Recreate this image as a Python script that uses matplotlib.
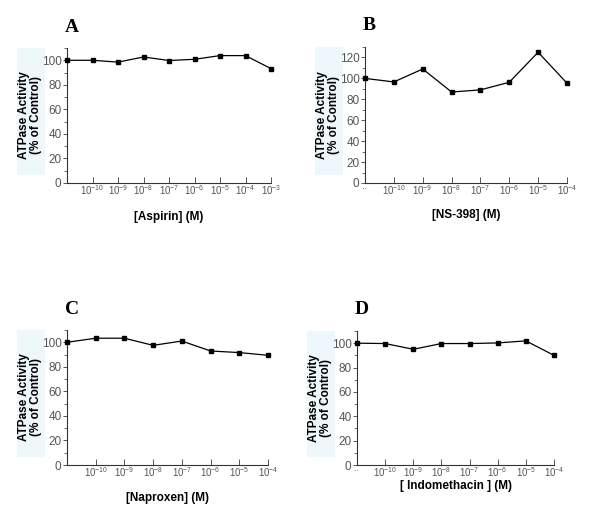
import matplotlib
matplotlib.use("Agg")
import matplotlib.pyplot as plt
from matplotlib.patches import Rectangle
from matplotlib.ticker import MultipleLocator

plt.rcParams['font.family'] = ['Liberation Sans', 'DejaVu Sans']
plt.rcParams['mathtext.default'] = 'regular'

# concentration exponents (None = control)
exp_a = [None, -10, -9, -8, -7, -6, -5, -4, -3]
exp_b = [None, -10, -9, -8, -7, -6, -5, -4]
exp_c = [None, -10, -9, -8, -7, -6, -5, -4]
exp_d = [None, -10, -9, -8, -7, -6, -5, -4]

# ATPase activity (% of control)
aspirin = [100, 100, 98.5, 102.7, 99.8, 100.8, 103.8, 103.8, 93.2]
ns398 = [100, 96.6, 109, 87, 89, 96.3, 125, 95.4]
naproxen = [100, 103.3, 103.3, 97.5, 101, 92.9, 91.6, 89.4]
indomethacin = [100, 99.7, 95, 99.7, 99.7, 100.2, 101.9, 90]

panels = [
    # letter, exps, values, xlabel, axes rect (fig px), ymax, control label, xlabel centre
    ("A", exp_a, aspirin, "[Aspirin] (M)", (67, 271, 183, 48), 110, "", 217),
    ("B", exp_b, ns398, "[NS-398] (M)", (365, 567, 183, 47), 130, "··", 215),
    ("C", exp_c, naproxen, "[Naproxen] (M)", (67, 268, 465, 330), 110, "", 498),
    ("D", exp_d, indomethacin, "[ Indomethacin ] (M)", (357, 554, 465, 331), 110, "··", 486),
]

W, H = 600, 527
fig = plt.figure(figsize=(6, 5.27), dpi=100)

for letter, exps, vals, xlab, (l, r, b, t), ymax, ctrl, xl_y in panels:
    ax = fig.add_axes([l / W, 1 - b / H, (r - l) / W, (b - t) / H])

    # faint box behind the y label
    fig.patches.append(Rectangle(((l - 50) / W, 1 - (b - 8) / H), 28 / W, (b - 8 - t) / H,
                                 transform=fig.transFigure, facecolor='#eef7fb',
                                 edgecolor='none', zorder=-1))

    xs = list(range(len(vals)))
    ax.plot(xs, vals, color='black', lw=0.9, marker='s', ms=3, mec='black', mfc='black',
            clip_on=False, zorder=3)

    ax.set_xlim(0, len(vals) - 1)
    ax.set_ylim(0, ymax)
    ax.patch.set_alpha(0)
    ax.spines['top'].set_visible(False)
    ax.spines['right'].set_visible(False)
    for s in ('left', 'bottom'):
        ax.spines[s].set_linewidth(0.8)
        ax.spines[s].set_color('#333333')

    labels = [ctrl] + ['$10^{%d}$' % e for e in exps[1:]]
    ax.set_xticks(xs)
    ax.set_xticklabels(labels)
    ax.yaxis.set_major_locator(MultipleLocator(20))
    ax.yaxis.set_minor_locator(MultipleLocator(10))
    ax.tick_params(axis='x', direction='in', length=4, width=0.7, colors='#555555',
                   labelsize=7, pad=0.5)
    ax.tick_params(axis='y', which='major', direction='out', length=3, width=0.7,
                   colors='#555555', labelsize=8.5, pad=1)
    ax.tick_params(axis='y', which='minor', direction='out', length=2, width=0.6,
                   colors='#555555')

    ax.set_ylabel("ATPase Activity\n(% of Control)", fontsize=8.5, fontweight='bold',
                  linespacing=1.0)
    ax.yaxis.set_label_coords(-37 / (r - l), 0.5)
    ax.yaxis.label.set_va('center')
    ax.set_xlabel(xlab, fontsize=8.5, fontweight='bold')
    ax.xaxis.set_label_coords(0.5, -(xl_y - b) / (b - t))
    ax.xaxis.label.set_va('center')

    fig.text((l - 2) / W, 1 - (t - 21) / H, letter, fontsize=14, fontweight='bold',
             family='Liberation Serif', va='center', ha='left')

fig.savefig("out.png", dpi=100)
